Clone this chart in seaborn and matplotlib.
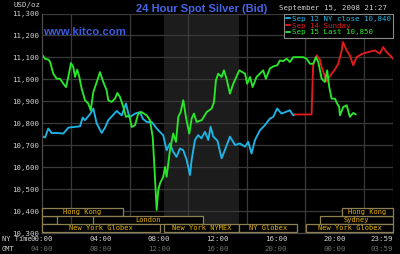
import numpy as np
import pandas as pd
import matplotlib
matplotlib.use("Agg")
import matplotlib.pyplot as plt
import seaborn as sns
from matplotlib.patches import Rectangle

# ---------------- data ----------------
sep12_hours = [0.0, 0.21, 0.43, 0.66, 1.0, 1.46, 1.8, 2.6, 2.78, 2.94, 3.28, 3.51, 3.74, 4.08, 4.31,
               4.53, 5.11, 5.45, 5.74, 5.97, 6.36, 6.7, 6.9, 7.16, 7.5, 7.84, 8.29, 8.52, 8.75, 8.97,
               9.2, 9.43, 9.66, 9.89, 10.12, 10.23, 10.46, 10.68, 10.9, 11.14, 11.37, 11.53, 11.71,
               12.0, 12.28, 12.5, 12.85, 13.2, 13.53, 13.88, 14.1, 14.33, 14.56, 14.9, 15.24, 15.58,
               15.81, 16.08, 16.38, 16.95, 17.18, 17.29]
sep12_price = [10741, 10735, 10776, 10755, 10756, 10753, 10780, 10786, 10826, 10814, 10841, 10867,
               10799, 10756, 10780, 10814, 10856, 10836, 10890, 10826, 10844, 10851, 10820, 10806,
               10806, 10776, 10745, 10677, 10708, 10670, 10647, 10685, 10677, 10633, 10564, 10633,
               10724, 10746, 10731, 10761, 10724, 10784, 10739, 10720, 10640, 10677, 10739, 10701,
               10708, 10693, 10715, 10662, 10723, 10768, 10791, 10821, 10829, 10867, 10844, 10859,
               10836, 10840]

sep14_hours = [17.29, 18.43, 18.54, 18.78, 19.0, 19.12, 19.46, 19.69, 20.03, 20.25, 20.49, 20.57,
               20.83, 21.05, 21.28, 21.51, 21.85, 22.3, 22.76, 23.1, 23.33, 23.56, 23.79, 24.0]
sep14_price = [10840, 10840, 11065, 11109, 11090, 11056, 10990, 11015, 11045, 11070, 11130, 11170,
               11132, 11109, 11064, 11101, 11115, 11124, 11132, 11117, 11147, 11124, 11110, 11094]

sep15_hours = [0.05, 0.2, 0.43, 0.55, 0.77, 1.0, 1.23, 1.46, 1.64, 1.8, 1.98, 2.14, 2.26, 2.41, 2.55,
               2.71, 2.94, 3.16, 3.33, 3.51, 3.78, 3.96, 4.19, 4.42, 4.53, 4.76, 4.99, 5.15, 5.33,
               5.56, 5.74, 5.97, 6.13, 6.36, 6.58, 6.81, 7.16, 7.38, 7.57, 7.66, 7.77, 7.84, 7.95,
               8.07, 8.29, 8.41, 8.52, 8.75, 8.97, 9.16, 9.32, 9.48, 9.66, 9.84, 10.07, 10.23, 10.39,
               10.57, 10.92, 11.26, 11.6, 11.76, 11.89, 12.05, 12.28, 12.44, 12.62, 12.85, 13.08,
               13.49, 13.88, 14.03, 14.22, 14.4, 14.67, 14.9, 15.12, 15.31, 15.58, 15.81, 16.08,
               16.27, 16.49, 16.73, 16.95, 17.18, 17.86, 18.09, 18.32, 18.54, 18.73, 18.89, 19.12,
               19.34, 19.5, 19.64, 19.8, 20.03, 20.18, 20.32, 20.37, 20.6, 20.83, 21.05, 21.28, 21.46]
sep15_price = [11109, 11094, 11090, 11080, 11026, 11003, 11003, 10980, 10965, 11011, 11074, 11056,
               11011, 11044, 11011, 10958, 10905, 10890, 10859, 10942, 10995, 11033, 10988, 10950,
               10905, 10897, 10912, 10938, 10920, 10874, 10829, 10836, 10783, 10791, 10844, 10851,
               10836, 10814, 10738, 10632, 10495, 10405, 10495, 10526, 10556, 10601, 10556, 10677,
               10753, 10715, 10829, 10851, 10905, 10829, 10753, 10821, 10844, 10806, 10814, 10851,
               10867, 10897, 10995, 11026, 11011, 11041, 11003, 10935, 10980, 11041, 11026, 10980,
               11011, 10965, 11011, 11026, 11041, 11003, 11049, 11059, 11064, 11086, 11083, 11094,
               11079, 11101, 11101, 11094, 11071, 11071, 11101, 11079, 11003, 10988, 11041, 10965,
               10912, 10912, 10890, 10874, 10836, 10874, 10882, 10829, 10847, 10840]

series_names = ["Sep 12 NY close 10,840", "Sep 14 Sunday", "Sep 15 Last 10,850"]
series_colors = ["#1eb4e6", "#e21c1c", "#2ae62a"]

y_ticks = [10300, 10400, 10500, 10600, 10700, 10800, 10900, 11000, 11100, 11200, 11300]
x_grid = [0, 2, 4, 6, 8, 10, 12, 14, 16, 18, 20, 22, 24]
x_ticks = [0, 4, 8, 12, 16, 20, 23.98]
ny_labels = ["00:00", "04:00", "08:00", "12:00", "16:00", "20:00", "23:59"]
gmt_labels = ["04:00", "08:00", "12:00", "16:00", "20:00", "00:00", "03:59"]

# trading sessions
session_names = ["", "Hong Kong", "London", "New York Globex", "New York NYMEX", "NY Globex",
                 "Sydney", "Hong Kong", "New York Globex"]
session_start = [0.0, 0.0, 3.49, 0.0, 8.34, 13.47, 19.0, 20.5, 18.04]
session_end = [1.03, 5.54, 11.0, 8.07, 13.47, 17.43, 24.0, 24.0, 24.0]
session_row = [1, 0, 1, 2, 2, 2, 1, 0, 2]

# ---------------- build frame ----------------
df = pd.concat([
    pd.DataFrame({"hour": sep12_hours, "price": sep12_price, "series": series_names[0]}),
    pd.DataFrame({"hour": sep14_hours, "price": sep14_price, "series": series_names[1]}),
    pd.DataFrame({"hour": sep15_hours, "price": sep15_price, "series": series_names[2]}),
], ignore_index=True)

sns.set_theme(style="dark", rc={
    "figure.facecolor": "black", "axes.facecolor": "black",
    "axes.edgecolor": "#4a4a4a", "grid.color": "#3a3a3a",
})
plt.rcParams["font.family"] = ["DejaVu Sans Mono", "DejaVu Sans"]

W, H = 400, 254
fig = plt.figure(figsize=(W / 100, H / 100), dpi=100, facecolor="black")
ax = fig.add_axes([42 / W, 1 - 233 / H, 351 / W, 219.5 / H])
ax.set_facecolor("black")

ax.axvspan(8.333, 13.5, color="#1c1c1c", zorder=0, lw=0)

sns.lineplot(data=df, x="hour", y="price", hue="series", hue_order=series_names,
             palette=series_colors, estimator=None, sort=False, linewidth=1.35, ax=ax, zorder=2)

ax.set_xlim(0, 24)
ax.set_ylim(10300, 11300)
ax.set_xticks(x_ticks)
ax.set_xticklabels(ny_labels)
ax.set_xticks(x_grid, minor=True)
ax.set_yticks(y_ticks)
ax.set_yticklabels([f"{v:,}" for v in y_ticks])
ax.grid(False, which="major", axis="x")
ax.grid(True, which="minor", axis="x", color="#3a3a3a", lw=0.9, zorder=1)
ax.grid(True, which="major", axis="y", color="#3a3a3a", lw=0.9, zorder=1)
ax.set_axisbelow(True)
ax.set_xlabel("")
ax.set_ylabel("")
ax.tick_params(axis="both", which="both", length=0, labelsize=5.3, labelcolor="#d2d2d2")
ax.tick_params(axis="x", pad=2.5)
ax.tick_params(axis="y", pad=2.0)
for lbl in ax.get_xticklabels()[-1:]:
    lbl.set_horizontalalignment("right")
for s in ["top", "right"]:
    ax.spines[s].set_visible(False)
for s in ["left", "bottom"]:
    ax.spines[s].set_color("#4a4a4a")
    ax.spines[s].set_linewidth(0.9)

sec = ax.secondary_xaxis(-0.043)
sec.set_xticks(x_ticks)
sec.set_xticklabels(gmt_labels)
sec.tick_params(length=0, pad=2.5, labelsize=5.3, labelcolor="#707070")
sec.spines["bottom"].set_visible(False)
for lbl in sec.get_xticklabels()[-1:]:
    lbl.set_horizontalalignment("right")

# session bars
row_top = [10414, 10377, 10341]
row_h = 36.5
for name, s0, s1, r in zip(session_names, session_start, session_end, session_row):
    ax.add_patch(Rectangle((s0, row_top[r] - row_h), s1 - s0, row_h, facecolor="black",
                           edgecolor="#8f8052", lw=0.9, zorder=4, clip_on=False))
    if name:
        ax.text((s0 + s1) / 2, row_top[r] - row_h / 2, name, ha="center", va="center",
                fontsize=5.0, color="#e8b400", zorder=5)

# legend
handles, labels = ax.get_legend_handles_labels()
leg = ax.legend(handles, labels, loc="upper right", bbox_to_anchor=(1.0, 1.0), borderaxespad=0,
                fontsize=5.4, labelcolor="linecolor", handlelength=0.5, handletextpad=0.3,
                borderpad=0.3, labelspacing=0.05, frameon=True, fancybox=False)
leg.get_frame().set_facecolor("black")
leg.get_frame().set_edgecolor("#8a8a8a")
leg.get_frame().set_linewidth(0.8)
leg.get_frame().set_alpha(1)
leg.set_zorder(6)

# texts
fig.text(13 / W, 1 - 5 / H, "USD/oz", ha="left", va="center", fontsize=5.3, color="#d2d2d2")
fig.text(202 / W, 1 - 9 / H, "24 Hour Spot Silver (Bid)", ha="center", va="center",
         fontsize=8, fontweight="bold", color="#4565e6", family=["Liberation Sans", "DejaVu Sans"])
fig.text(333 / W, 1 - 8 / H, "September 15, 2008 21:27", ha="center", va="center",
         fontsize=5.3, color="#d2d2d2")
fig.text(43 / W, 1 - 32 / H, "www.kitco.com", ha="left", va="center", fontsize=8.2,
         fontweight="bold", color="#3a5ae0", family=["Liberation Sans", "DejaVu Sans"])
fig.text(2 / W, 1 - 239 / H, "NY Time", ha="left", va="center", fontsize=5.0, color="#d2d2d2")
fig.text(2 / W, 1 - 249 / H, "GMT", ha="left", va="center", fontsize=5.0, color="#d2d2d2")

fig.savefig("out.png", dpi=100, facecolor="black")
